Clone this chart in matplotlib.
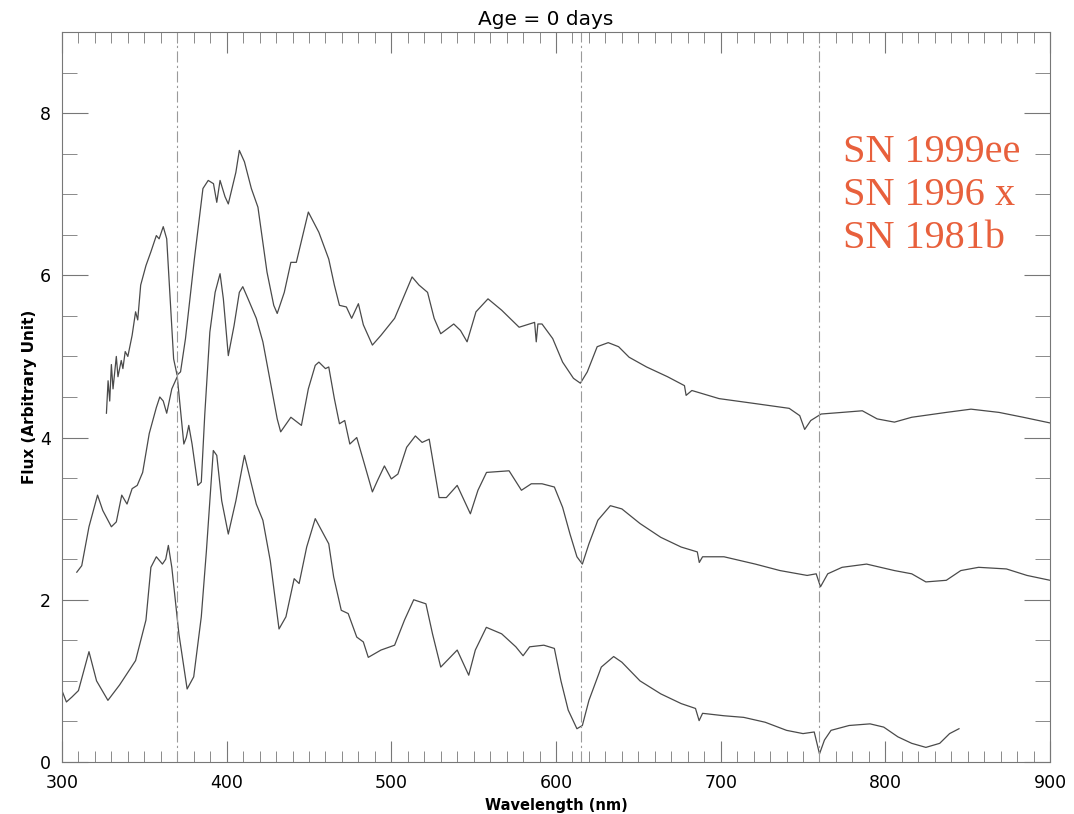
import matplotlib
matplotlib.use("Agg")
import matplotlib.pyplot as plt
from matplotlib.ticker import MultipleLocator

# SN 1999ee (upper spectrum)
wl_99ee = [327, 328, 329, 330, 331, 333, 334, 336, 337, 338.4, 340, 342.6, 344.7, 346, 347.8,
           351, 354, 357.3, 359, 361.5, 363.6, 365.7, 367.8, 369.9, 372, 375, 380.4, 385.6,
           388.8, 392, 394, 396, 399, 401, 405.6, 407.7, 410.8, 415, 419, 424.5, 428.6, 430.7,
           435, 439, 442.3, 449.6, 456, 462, 465.4, 468.5, 472.7, 475.9, 480, 483, 488.5,
           493.7, 502, 507, 512.6, 516.8, 522, 526, 530, 537.9, 542, 546, 551.4, 558.7, 567,
           577.6, 587, 588, 589, 591.5, 598, 604, 610.6, 614.8, 619, 625, 631.7, 638, 644.4,
           655, 667.7, 678, 679, 682.5, 699, 720.5, 741.6, 748, 751, 754.7, 761, 773.7, 786,
           795, 805.5, 816, 837, 852, 869, 883.7, 900]
fx_99ee = [4.30, 4.70, 4.45, 4.90, 4.60, 5.00, 4.75, 4.95, 4.85, 5.06, 5.00, 5.26, 5.55, 5.45, 5.88,
           6.12, 6.29, 6.49, 6.45, 6.60, 6.45, 5.71, 4.97, 4.77, 4.81, 5.22, 6.20, 7.07,
           7.17, 7.13, 6.90, 7.17, 6.97, 6.88, 7.27, 7.54, 7.40, 7.07, 6.84, 6.04, 5.63, 5.53,
           5.79, 6.16, 6.16, 6.78, 6.53, 6.20, 5.88, 5.63, 5.61, 5.47, 5.65, 5.39, 5.14,
           5.26, 5.47, 5.71, 5.98, 5.88, 5.79, 5.47, 5.28, 5.40, 5.32, 5.18, 5.55, 5.71, 5.57,
           5.36, 5.42, 5.18, 5.40, 5.40, 5.22, 4.93, 4.73, 4.67, 4.81, 5.12, 5.17, 5.12, 4.99,
           4.87, 4.75, 4.64, 4.52, 4.58, 4.48, 4.42, 4.36, 4.27, 4.10, 4.21, 4.29, 4.31, 4.33,
           4.23, 4.19, 4.25, 4.31, 4.35, 4.31, 4.25, 4.18]

# SN 1996x (middle spectrum)
wl_96x = [309, 312, 316.4, 321.6, 324.8, 330, 333, 336.3, 339.5, 342.6, 345.7, 349, 353, 357.3,
          359.4, 361.5, 363.6, 366.7, 370, 374, 375.5, 377, 379, 382.5, 384.6, 386.7, 389.8,
          393, 396, 398, 401, 404.5, 407.7, 409.8, 413, 418, 422, 426.5, 430.7, 432.8, 439,
          445.4, 449.6, 453.8, 456, 460, 462, 465.4, 468.5, 471.7, 474.8, 479, 483, 488.5,
          491.6, 495.8, 500, 504, 509.3, 514.6, 518.7, 523, 529, 533.4, 540, 548, 552.6, 557.8,
          571.5, 579, 585, 591.5, 599, 604, 608.5, 612.7, 616, 620, 625.4, 633, 640, 651,
          663.6, 676, 685.8, 687, 689, 702, 721, 736, 752.5, 758, 760.6, 765, 773.7, 788.6,
          805.5, 816, 824.6, 837, 845.8, 856.6, 873.5, 886, 900]
fx_96x = [2.34, 2.42, 2.90, 3.29, 3.10, 2.90, 2.96, 3.29, 3.18, 3.37, 3.41, 3.57, 4.05, 4.37,
          4.50, 4.45, 4.30, 4.60, 4.75, 3.92, 4.00, 4.15, 3.92, 3.41, 3.45, 4.28, 5.30,
          5.79, 6.02, 5.71, 5.01, 5.38, 5.79, 5.86, 5.71, 5.47, 5.18, 4.69, 4.23, 4.07, 4.25,
          4.15, 4.60, 4.89, 4.93, 4.85, 4.87, 4.48, 4.17, 4.21, 3.92, 4.00, 3.72, 3.33,
          3.47, 3.65, 3.49, 3.55, 3.88, 4.02, 3.94, 3.98, 3.26, 3.26, 3.41, 3.06, 3.35, 3.57,
          3.59, 3.35, 3.43, 3.43, 3.39, 3.14, 2.81, 2.53, 2.44, 2.69, 2.98, 3.16, 3.12, 2.94,
          2.77, 2.65, 2.59, 2.46, 2.53, 2.53, 2.44, 2.36, 2.30, 2.32, 2.16, 2.32, 2.40, 2.44,
          2.36, 2.32, 2.22, 2.24, 2.36, 2.40, 2.38, 2.30, 2.24]

# SN 1981b (lower spectrum)
wl_81b = [300, 302.7, 306, 310, 316.4, 321, 327.9, 335, 344.7, 351, 354, 357.3, 361, 363,
          364.6, 366.7, 371, 376, 380, 384.6, 387.7, 391.9, 394, 397, 401, 405.6, 410.8, 418,
          422, 426.5, 431.8, 436, 441, 444, 448.6, 453.8, 462, 465, 469.6, 473.8, 479, 483,
          486, 493.7, 502, 508, 513.6, 521, 525, 530, 540, 547, 551, 557.7, 567, 575.6, 580,
          584, 592.6, 599, 603, 607.4, 612.7, 616, 620, 627.5, 635, 640, 651, 663.6, 676,
          684.7, 686.9, 689, 702, 714, 727, 740, 750, 756.8, 760, 763, 767, 778, 790.7, 799,
          807.6, 816, 824.6, 833, 839, 844.7]
fx_81b = [0.88, 0.74, 0.80, 0.88, 1.36, 1.00, 0.76, 0.95, 1.25, 1.75, 2.40, 2.53, 2.44, 2.50,
          2.67, 2.40, 1.58, 0.90, 1.05, 1.79, 2.60, 3.84, 3.78, 3.22, 2.81, 3.22, 3.78, 3.18,
          2.98, 2.48, 1.64, 1.79, 2.26, 2.20, 2.65, 3.00, 2.69, 2.28, 1.87, 1.83, 1.54, 1.48,
          1.29, 1.38, 1.44, 1.75, 2.00, 1.95, 1.58, 1.17, 1.38, 1.07, 1.38, 1.66, 1.58, 1.42, 1.31,
          1.42, 1.44, 1.40, 1.00, 0.64, 0.41, 0.45, 0.76, 1.17, 1.30, 1.23, 1.00, 0.84, 0.72,
          0.66, 0.51, 0.60, 0.57, 0.55, 0.49, 0.39, 0.35, 0.37, 0.10, 0.27, 0.39, 0.45, 0.47, 0.43,
          0.31, 0.23, 0.18, 0.23, 0.35, 0.41]

line_marks = [370, 615, 760]
legend_names = ["SN 1999ee", "SN 1996 x", "SN 1981b"]

fig = plt.figure(figsize=(10.74, 8.14), dpi=100)
ax = fig.add_axes([0.0577, 0.0639, 0.92, 0.8968])

# spectra
for wl, fx in [(wl_99ee, fx_99ee), (wl_96x, fx_96x), (wl_81b, fx_81b)]:
    ax.plot(wl, fx, color="#4a4a4a", lw=0.9)

# reference lines
for xm in line_marks:
    ax.axvline(xm, color="#9a9a9a", lw=0.8, linestyle=(0, (10, 3, 2, 3)))

ax.set_xlim(300, 900)
ax.set_ylim(0, 9)
ax.xaxis.set_major_locator(MultipleLocator(100))
ax.xaxis.set_minor_locator(MultipleLocator(10))
ax.yaxis.set_major_locator(MultipleLocator(2))
ax.yaxis.set_minor_locator(MultipleLocator(0.5))
ax.tick_params(which="both", direction="in", top=True, right=True, color="#777777",
               labelsize=12.5)
ax.tick_params(axis="x", which="major", length=15, pad=9)
ax.tick_params(axis="x", which="minor", length=8)
ax.tick_params(axis="y", which="major", length=19, pad=8)
ax.tick_params(axis="y", which="minor", length=11)
for sp in ax.spines.values():
    sp.set_color("#777777")

ax.set_title("Age = 0 days", fontsize=14.5, pad=5, x=0.49)
ax.set_xlabel("Wavelength (nm)", fontsize=10.5, fontweight="bold", labelpad=4)
ax.set_ylabel("Flux (Arbitrary Unit)", fontsize=11, fontweight="bold", labelpad=2)

# coloured legend text
for i, name in enumerate(legend_names):
    ax.text(774, 7.51 - i * 0.53, name, color="#e8603c", fontsize=29,
            family="Liberation Serif", va="center", ha="left")

fig.savefig("out.png", dpi=100)
